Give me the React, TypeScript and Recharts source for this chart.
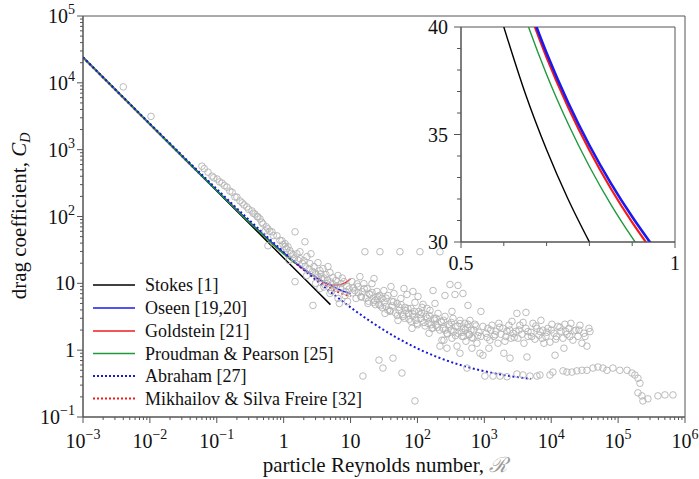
import React from 'react';
import { ComposedChart, Line, Scatter, XAxis, YAxis, ReferenceArea } from 'recharts';

const FONT = "'Liberation Serif', 'Times New Roman', Times, serif";
const AXIS = '#555555';
const TEXT = '#111111';

// ---------- ticks ----------
const xMajor = [1e-3, 1e-2, 1e-1, 1, 10, 1e2, 1e3, 1e4, 1e5, 1e6];
const yMajor = [1e-1, 1, 10, 1e2, 1e3, 1e4, 1e5];
const minorSteps = [2, 3, 4, 5, 6, 7, 8, 9];
const insetXTicks = [0.5, 0.6, 0.7, 0.8, 0.9, 1];
const insetXLabels = [0.5, 1];
const insetYTicks = [30, 31, 32, 33, 34, 35, 36, 37, 38, 39, 40];
const insetYLabels = [30, 35, 40];

// ---------- series ----------
const seriesNames = [
  'Stokes [1]',
  'Oseen [19,20]',
  'Goldstein [21]',
  'Proudman & Pearson [25]',
  'Abraham [27]',
  'Mikhailov & Silva Freire [32]',
];
const seriesColors = ['#000000', '#1a1aee', '#f21b1b', '#1e9a3c', '#1a1ad0', '#f21b1b'];
const seriesDotted = [false, false, false, false, true, true];
const drawOrder = [5, 2, 0, 1, 3, 4];

const stokesR = [0.001, 0.01, 0.1, 1, 5];
const stokesCD = [24000, 2400, 240, 24, 4.8];
const oseenR = [0.001, 0.01, 0.1, 0.3, 1, 2, 3, 5, 7, 10];
const oseenCD = [24004, 2404, 244.5, 84.5, 28.5, 16.5, 12.5, 9.3, 7.95, 7.0];
const goldsteinR = [0.001, 0.01, 0.1, 1, 2, 3, 4, 5, 6, 7, 8, 9, 10];
const goldsteinCD = [24004, 2404, 244.4, 28.2, 16.1, 12.2, 10.4, 9.6, 9.36, 9.51, 9.97, 10.7, 11.7];
const proudmanR = [0.001, 0.01, 0.1, 0.3, 1, 1.5];
const proudmanCD = [24004, 2404, 244.1, 83.7, 27.6, 19.9];
const abrahamR = [0.001, 0.01, 0.1, 0.3, 1, 2, 3, 5, 10, 20, 50, 100, 200, 500, 1000, 2000, 5000];
const abrahamCD = [24170, 2453, 257.1, 90.0, 29.6, 16.0, 11.35, 7.46, 4.37, 2.68, 1.52, 1.06, 0.787, 0.577, 0.484, 0.423, 0.372];
const mikhailovR = [0.001, 0.01, 0.1, 1, 2, 3, 4, 5, 7, 10];
const mikhailovCD = [24004, 2404, 244, 27.9, 15.9, 11.8, 9.7, 8.5, 7.2, 6.4];

// inset (zoomed) series
const stokesInsetR = [0.6, 0.65, 0.7, 0.75, 0.8];
const stokesInsetCD = [40, 36.92, 34.29, 32, 30];
const oseenInsetR = [0.65, 0.7, 0.75, 0.8, 0.85, 0.9, 0.95];
const oseenInsetCD = [41.42, 38.79, 36.5, 34.5, 32.74, 31.17, 29.76];
const goldsteinInsetR = [0.65, 0.7, 0.75, 0.8, 0.85, 0.9, 0.95];
const goldsteinInsetCD = [41.23, 38.58, 36.28, 34.27, 32.49, 30.91, 29.5];
const proudmanInsetR = [0.6, 0.65, 0.7, 0.75, 0.8, 0.85, 0.9, 0.95];
const proudmanInsetCD = [43.52, 40.44, 37.79, 35.51, 33.51, 31.75, 30.2, 28.81];

// experimental data (grey open circles)
const expR = [
  0.004, 0.0104, 0.06, 0.074, 0.085, 0.101, 0.12, 0.142, 0.157, 0.187, 0.222, 0.255, 0.282, 0.336, 0.372, 0.413, 0.443, 0.491, 0.53, 0.582, 0.582, 0.668, 0.794, 0.944, 1.05, 1.16,
  0.065, 0.09, 0.11, 0.13, 0.17, 0.2, 0.24, 0.3, 0.35, 0.4, 0.47, 0.55, 0.62, 0.7, 0.88, 0.98,
  1.05, 1.24, 1.38, 1.58, 1.75, 2.01, 2.23, 2.47, 2.84, 3.26, 3.49, 3.87, 4.29, 4.92, 5.46, 6.05, 6.49, 7.19, 7.96, 8.83, 3.04, 3.74, 2.56, 4.59, 2.08, 1.48, 1.48, 2.74, 1.75, 3.49, 4.92, 6.49, 8.3, 4.4, 5.8, 6.8, 9.0,
  1.1, 1.3, 1.45, 1.65, 1.9, 2.1, 2.4, 2.7, 3.0, 3.3, 3.6, 4.0, 4.5, 5.0, 5.5, 6.2, 7.0, 7.5, 8.5, 9.5, 2.2, 3.0, 4.0, 5.2, 1.2,
  10.5, 11.6, 12.9, 14.3, 15.8, 12.1, 13.8,
  17.6, 19.5, 20.9, 23.2, 24.8, 26.6, 18.2, 22.4, 25.7,
  29.4, 31.5, 33.8, 36.2, 38.8, 41.6, 44.6, 32.7, 40.2,
  49.4, 53, 56.6, 60.7, 65, 69.7, 74.6, 51.2, 62.8,
  80, 85.7, 91.8, 98.4, 105, 113, 121, 82.8, 102,
  134, 144, 154, 165, 177, 189, 203, 149, 183,
  225, 240, 258, 276, 296, 317, 340, 249, 328,
  377, 404, 432, 463, 495, 531, 569, 390, 589,
  631, 676, 724, 776, 830, 889, 953, 653, 859,
  11, 13, 15, 17, 19, 22, 25, 28, 32, 36, 42, 47, 53, 60, 67, 75, 85, 95, 110, 125, 140, 160, 180, 200, 230, 260, 300, 350, 400, 460, 520, 600, 700, 800,
  10.8, 12.5, 14.5, 16, 18.5, 21, 23.5, 27, 30, 34, 39, 44, 50, 57, 64, 72, 80, 90, 100, 115, 130, 150, 170, 190, 215, 245, 280, 320, 370, 430, 490, 560, 650, 750,
  1060, 1130, 1210, 1300, 1390, 1490, 1600, 1170, 1650,
  1770, 1900, 2030, 2180, 2330, 2500, 2680, 1960, 2590,
  2970, 3180, 3400, 3650, 3910, 4190, 4490, 4340, 3070,
  4980, 5330, 5710, 6110, 6550, 7020, 7520, 7780,
  8340, 8930, 9570, 10250, 11000, 11700, 12600, 11400,
  14000, 15000, 16000, 17200, 18400, 19700, 21100, 15500,
  23400, 25100, 26900, 28800, 30800, 34200, 36600,
  1100, 1250, 1450, 1700, 2100, 2400, 2800, 3300, 3800, 4500, 5100, 5900, 6800, 7300, 8600, 10000, 12000, 13500, 16500, 19000, 22000, 26000, 32000, 38000,
  16.4, 27.5, 54.8, 109, 217, 306, 404, 258, 364, 479, 569, 328, 889, 4190, 139, 85.7, 171, 117, 610, 513,
  15.3, 26.6, 43.1, 30.5, 58.6, 91.8, 217, 276, 232, 432, 953, 2420, 550,
  1020, 1350, 1710, 2180, 3070, 3780, 4810, 6110, 6780, 9570, 10600, 15000, 17200, 20400, 24200, 28800, 34200, 42100, 49900, 59300, 68100, 83600, 106000, 136000, 161000, 178000, 198000, 212000, 198000, 227000, 235000, 279000, 394000, 501000, 661000,
];
const expCD = [
  8700, 3150, 566, 461, 402, 363, 316, 275, 240, 196, 171, 149, 139, 121, 109, 98.6, 92, 77.6, 61, 65.3, 36.5, 59, 51.4, 43.3, 39.1, 35.3,
  520, 380, 330, 290, 230, 195, 160, 128, 112, 100, 82, 70, 60, 52, 44, 38,
  35.3, 30.8, 26.9, 27.7, 23.4, 21.8, 25.1, 19.7, 17.8, 20.4, 15.5, 16.6, 13.5, 14.5, 12.2, 11.0, 13.1, 9.9, 10.6, 8.95, 13.5, 11.8, 27.7, 17.8, 41.9, 59, 10.6, 4.67, 29.7, 8.37, 7.05, 5.94, 6.58, 9.9, 8.37, 5.0, 5.36,
  33, 28, 24, 22, 20, 18, 16.5, 15, 14.2, 12.5, 13.8, 12, 11.2, 10.5, 9.6, 9.2, 8.5, 12, 7.5, 8.2, 13, 10, 8.8, 7.6, 22,
  10.6, 7.8, 8.95, 6.36, 9.9, 5.94, 12.6,
  8.37, 6.8, 9.9, 5.55, 7.55, 4.84, 5.0, 11.8, 6.36,
  5.94, 7.8, 4.52, 6.58, 3.94, 5.36, 7.05, 3.55, 8.95,
  5.0, 3.94, 5.94, 3.2, 4.37, 6.8, 3.55, 2.79, 8.37,
  4.22, 3.2, 5.18, 2.52, 3.8, 2.99, 4.84, 2.12, 6.36,
  3.2, 2.52, 3.94, 2.12, 2.99, 2.36, 3.55, 1.79, 5.0,
  2.7, 2.12, 3.2, 1.79, 2.44, 1.99, 2.99, 1.41, 1.51,
  2.27, 1.79, 2.79, 1.61, 2.12, 1.36, 2.44, 1.15, 1.73,
  1.99, 1.51, 2.44, 1.27, 1.85, 1.61, 2.27, 1.07, 0.9,
  8.5, 7.2, 7.5, 6.0, 7.0, 5.2, 5.8, 4.6, 5.2, 4.0, 4.6, 3.6, 4.4, 3.4, 3.9, 2.9, 3.5, 2.8, 3.4, 2.6, 3.0, 2.4, 2.8, 2.2, 2.6, 2.0, 2.3, 1.9, 2.3, 1.85, 2.0, 1.7, 2.0, 1.65,
  7.2, 9.8, 6.2, 8.3, 5.4, 7.3, 4.8, 6.6, 4.3, 6.0, 3.8, 5.3, 3.3, 4.8, 3.0, 4.2, 2.7, 3.8, 2.4, 3.6, 2.3, 3.3, 2.15, 3.0, 2.0, 2.8, 1.75, 2.6, 1.65, 2.5, 1.6, 2.2, 1.55, 2.3,
  1.79, 2.12, 1.41, 2.36, 1.61, 1.92, 1.27, 1.07, 2.52,
  1.73, 2.12, 1.36, 1.92, 2.36, 1.51, 1.79, 0.9, 2.7,
  1.92, 1.51, 2.36, 1.73, 1.27, 2.12, 1.61, 0.79, 3.55,
  1.85, 2.52, 1.46, 2.12, 1.67, 2.79, 1.99, 1.27,
  1.61, 2.12, 1.32, 2.44, 1.79, 1.46, 2.27, 0.84,
  1.92, 1.51, 2.44, 1.73, 2.12, 2.52, 1.41, 1.07,
  1.99, 1.61, 2.36, 1.27, 1.79, 1.15, 2.12,
  1.55, 2.0, 1.7, 2.2, 1.6, 2.0, 1.55, 2.0, 2.6, 1.9, 1.6, 2.3, 1.9, 1.5, 1.85, 2.0, 1.6, 2.2, 1.9, 1.6, 1.95, 2.0, 1.6, 1.9,
  29.7, 29.7, 29.7, 29.7, 29.7, 9.6, 9.3, 6.58, 6.8, 7.05, 4.67, 3.8, 3.8, 3.67, 4.22, 7.55, 7.8, 4.37, 2.79, 2.52,
  0.41, 0.71, 0.76, 0.54, 0.455, 0.174, 1.15, 1.07, 1.41, 0.9, 0.84, 0.76, 0.54,
  0.41, 0.41, 0.41, 0.4, 0.44, 0.425, 0.41, 0.41, 0.425, 0.425, 0.47, 0.49, 0.47, 0.47, 0.49, 0.5, 0.5, 0.54, 0.56, 0.54, 0.5, 0.54, 0.5, 0.5, 0.455, 0.425, 0.38, 0.32, 0.23, 0.207, 0.174, 0.187, 0.207, 0.214, 0.214,
];

const zip = (rs: number[], cds: number[]) => rs.map((r, i) => ({ r, cd: cds[i] }));

const mainSeries = [
  zip(stokesR, stokesCD),
  zip(oseenR, oseenCD),
  zip(goldsteinR, goldsteinCD),
  zip(proudmanR, proudmanCD),
  zip(abrahamR, abrahamCD),
  zip(mikhailovR, mikhailovCD),
];
const insetSeries = [
  zip(stokesInsetR, stokesInsetCD),
  zip(proudmanInsetR, proudmanInsetCD),
  zip(goldsteinInsetR, goldsteinInsetCD),
  zip(oseenInsetR, oseenInsetCD),
];
const insetColors = [seriesColors[0], seriesColors[3], seriesColors[2], seriesColors[1]];
const insetWidths = [1.4, 1.4, 2.2, 2.6];
const scatterData = zip(expR, expCD);

const xTicks = [...xMajor, ...xMajor.slice(0, -1).flatMap((m) => minorSteps.map((s) => m * s))];
const yTicks = [...yMajor, ...yMajor.slice(0, -1).flatMap((m) => minorSteps.map((s) => m * s))];

const TICK_FS = 20;

function PowText({ x, y, n, anchor }: { x: number; y: number; n: number; anchor: 'middle' | 'end' }) {
  const common = { x, y, textAnchor: anchor, fontFamily: FONT, fontSize: TICK_FS, fill: TEXT } as any;
  if (n === 0) return <text {...common}>1</text>;
  if (n === 1) return <text {...common}>10</text>;
  const sup = n < 0 ? '\u2212' + String(-n) : String(n);
  return (
    <text {...common}>
      10
      <tspan dy={-9} fontSize={14}>
        {sup}
      </tspan>
    </text>
  );
}

function MainXTick(props: any) {
  const { x, y, payload } = props;
  const v = payload.value;
  const major = xMajor.includes(v);
  return (
    <g>
      <line x1={x} x2={x} y1={y} y2={y + (major ? 6 : 3)} stroke={AXIS} strokeWidth={1} />
      {major && <PowText x={x} y={y + 31} n={Math.round(Math.log10(v))} anchor="middle" />}
    </g>
  );
}

function MainYTick(props: any) {
  const { x, y, payload } = props;
  const v = payload.value;
  const major = yMajor.includes(v);
  return (
    <g>
      <line x1={x - (major ? 6 : 3)} x2={x} y1={y} y2={y} stroke={AXIS} strokeWidth={1} />
      {major && <PowText x={x - 8} y={y + 7} n={Math.round(Math.log10(v))} anchor="end" />}
    </g>
  );
}

function InsetXTick(props: any) {
  const { x, y, payload } = props;
  const v = payload.value;
  const major = insetXLabels.includes(v);
  return (
    <g>
      <line x1={x} x2={x} y1={y} y2={y + (major ? 6 : 4)} stroke={AXIS} strokeWidth={1} />
      {major && (
        <text x={x} y={y + 28} textAnchor="middle" fontFamily={FONT} fontSize={TICK_FS} fill={TEXT}>
          {String(v)}
        </text>
      )}
    </g>
  );
}

function InsetYTick(props: any) {
  const { x, y, payload } = props;
  const v = payload.value;
  const major = insetYLabels.includes(v);
  return (
    <g>
      <line x1={x - (major ? 7 : 4)} x2={x} y1={y} y2={y} stroke={AXIS} strokeWidth={1} />
      {major && (
        <text x={x - 13} y={y + 7} textAnchor="end" fontFamily={FONT} fontSize={TICK_FS} fill={TEXT}>
          {String(v)}
        </text>
      )}
    </g>
  );
}

const CircleShape = (props: any) => {
  const { cx, cy } = props;
  if (cx == null || cy == null) return <g />;
  return <circle cx={cx} cy={cy} r={3.3} fill="none" stroke="#b3b3b3" strokeWidth={0.9} />;
};

const legendRowsY = [285, 308, 331, 353.5, 376, 398.5];

export default function App() {
  return (
    <div style={{ position: 'absolute', left: 0, top: 0, width: 699, height: 479, background: '#fff' }}>
      <div style={{ position: 'absolute', left: 0, top: 0 }}>
        <ComposedChart width={699} height={479} margin={{ top: 16, right: 14, bottom: 32, left: 23 }}>
          <XAxis
            dataKey="r"
            type="number"
            scale="log"
            domain={[1e-3, 1e6]}
            allowDataOverflow
            ticks={xTicks}
            interval={0}
            tickSize={0}
            tickMargin={0}
            tickLine={false}
            tick={<MainXTick />}
            height={30}
            stroke={AXIS}
          />
          <YAxis
            dataKey="cd"
            type="number"
            scale="log"
            domain={[0.1, 1e5]}
            allowDataOverflow
            ticks={yTicks}
            interval={0}
            tickSize={0}
            tickMargin={0}
            tickLine={false}
            tick={<MainYTick />}
            width={60}
            stroke={AXIS}
          />
          <ReferenceArea x1={1e-3} x2={1e6} y1={0.1} y2={1e5} fill="none" stroke={AXIS} strokeWidth={1} />
          <Scatter data={scatterData} dataKey="cd" shape={CircleShape} isAnimationActive={false} />
          {drawOrder.map((i) => (
            <Line
              key={seriesNames[i]}
              data={mainSeries[i]}
              dataKey="cd"
              type="monotone"
              stroke={seriesColors[i]}
              strokeWidth={seriesDotted[i] ? 2 : 1.5}
              strokeDasharray={seriesDotted[i] ? '2 2.5' : undefined}
              dot={false}
              activeDot={false}
              isAnimationActive={false}
            />
          ))}
        </ComposedChart>
      </div>
      <div style={{ position: 'absolute', left: 415, top: 0 }}>
        <ComposedChart width={265} height={275} margin={{ top: 27, right: 5, bottom: 5, left: 6 }}>
          <XAxis
            dataKey="r"
            type="number"
            domain={[0.5, 1]}
            allowDataOverflow
            ticks={insetXTicks}
            interval={0}
            tickSize={0}
            tickMargin={0}
            tickLine={false}
            tick={<InsetXTick />}
            height={28}
            stroke={AXIS}
          />
          <YAxis
            dataKey="cd"
            type="number"
            domain={[30, 40]}
            allowDataOverflow
            ticks={insetYTicks}
            interval={0}
            tickSize={0}
            tickMargin={0}
            tickLine={false}
            tick={<InsetYTick />}
            width={40}
            stroke={AXIS}
          />
          <ReferenceArea x1={0.5} x2={1} y1={30} y2={40} fill="none" stroke={AXIS} strokeWidth={1} />
          {insetSeries.map((d, i) => (
            <Line
              key={'inset' + i}
              data={d}
              dataKey="cd"
              type="monotone"
              stroke={insetColors[i]}
              strokeWidth={insetWidths[i]}
              dot={false}
              activeDot={false}
              isAnimationActive={false}
            />
          ))}
        </ComposedChart>
      </div>
      <svg
        width={699}
        height={479}
        style={{ position: 'absolute', left: 0, top: 0, pointerEvents: 'none' }}
      >
        {seriesNames.map((name, i) => (
          <g key={name}>
            <line
              x1={93}
              x2={135}
              y1={legendRowsY[i]}
              y2={legendRowsY[i]}
              stroke={seriesColors[i]}
              strokeWidth={seriesDotted[i] ? 1.8 : 1.6}
              strokeDasharray={seriesDotted[i] ? '2 2' : undefined}
            />
            <text x={145} y={legendRowsY[i] + 6} fontFamily={FONT} fontSize={18} fill={TEXT}>
              {name}
            </text>
          </g>
        ))}
        <text
          x={26}
          y={216}
          transform="rotate(-90, 26, 216)"
          textAnchor="middle"
          fontFamily={FONT}
          fontSize={21}
          fill={TEXT}
        >
          drag coefficient,{' '}
          <tspan fontStyle="italic">C</tspan>
          <tspan fontStyle="italic" fontSize={14} dy={4}>
            D
          </tspan>
        </text>
        <text x={385} y={472} textAnchor="middle" fontFamily={FONT} fontSize={21} fill={TEXT}>
          particle Reynolds number,{' '}
          <tspan fill="#9a9a9a" fontStyle="italic">
            {'\u211B'}
          </tspan>
        </text>
      </svg>
    </div>
  );
}
